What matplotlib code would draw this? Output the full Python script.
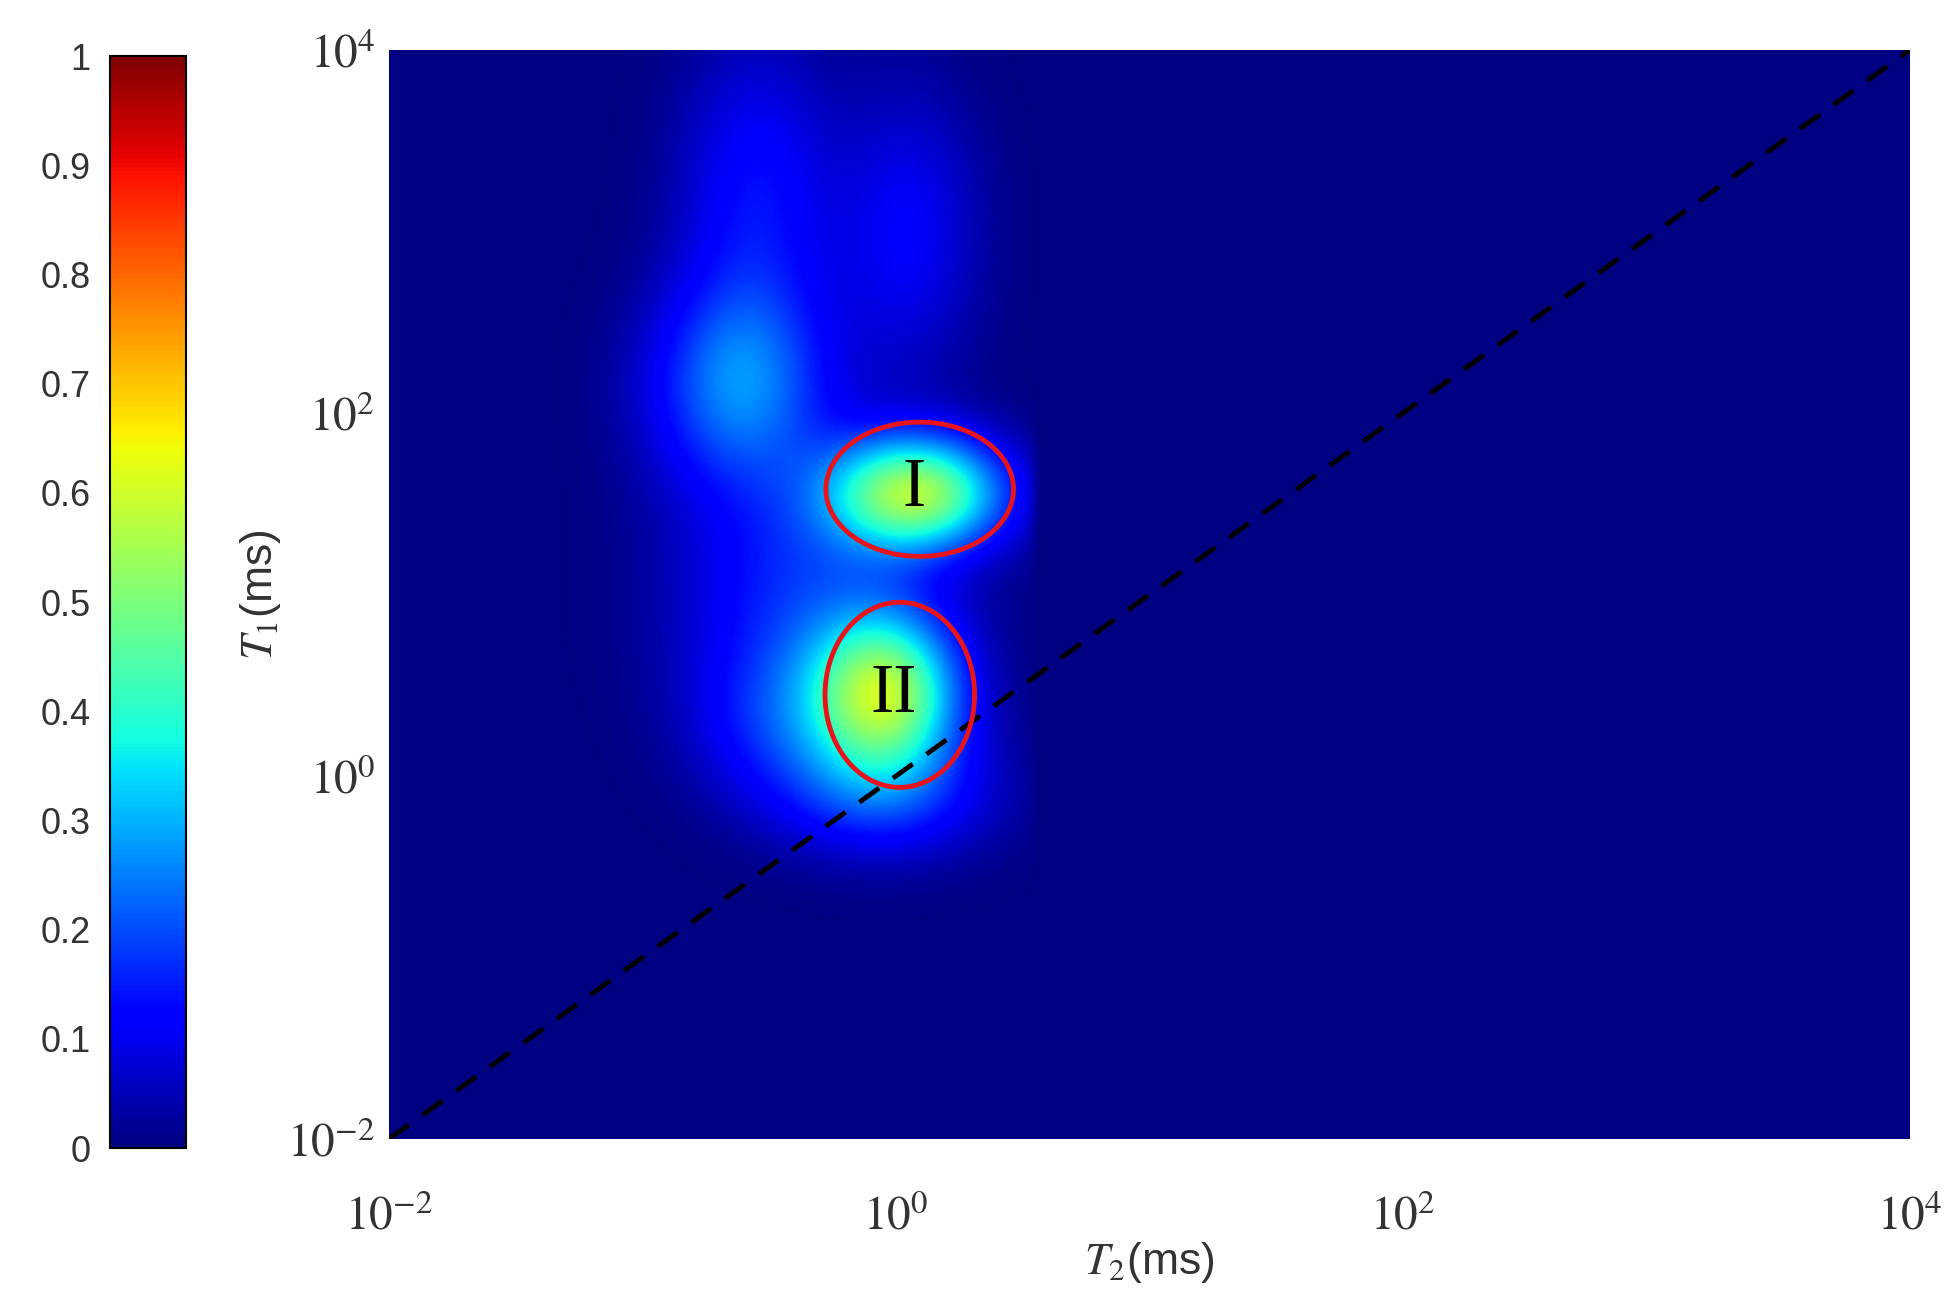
import numpy as np
import matplotlib.pyplot as plt

plt.rcParams["mathtext.fontset"] = "stix"

# peak parameters in log10 space: (log T2 centre, log T1 centre, amplitude, sigma T2, sigma T1)
peak_t2 = [0.08, -0.04, -0.62, -0.55, 0.05, -0.35, -0.05, -0.45]
peak_t1 = [1.56, 0.45, 2.15, 3.20, 3.00, 1.00, -0.10, 0.30]
peak_amp = [0.52, 0.50, 0.24, 0.13, 0.11, 0.16, 0.16, 0.12]
peak_s2 = [0.24, 0.20, 0.25, 0.22, 0.20, 0.35, 0.30, 0.25]
peak_s1 = [0.22, 0.30, 0.40, 0.60, 0.55, 0.50, 0.25, 0.30]
right_edge = 0.55   # log T2 where signal cuts off

ellipse_x = [1.24, 1.035]
ellipse_y = [38.0, 2.8]
ellipse_w = [0.74, 0.59]   # decades
ellipse_h = [0.74, 1.02]
ellipse_lbl = ["I", "II"]

lx = np.linspace(-2, 4, 600)
ly = np.linspace(-2, 4, 600)
X, Y = np.meshgrid(lx, ly)
Z = np.zeros_like(X)
for cx, cy, a, sx, sy in zip(peak_t2, peak_t1, peak_amp, peak_s2, peak_s1):
    Z += a * np.exp(-((X - cx) ** 2 / (2 * sx ** 2) + (Y - cy) ** 2 / (2 * sy ** 2)))
Z *= 1 / (1 + np.exp((X - right_edge) / 0.012))
Z = np.clip(Z, 0, 1)

fig = plt.figure(figsize=(19.57, 13.10), dpi=100)
ax = fig.add_axes([389 / 1957, 1 - 1139 / 1310, 1521 / 1957, 1089 / 1310])
cax = fig.add_axes([110 / 1957, 1 - 1148 / 1310, 76 / 1957, 1092 / 1310])

mesh = ax.pcolormesh(10 ** lx, 10 ** ly, Z, cmap="jet", vmin=0, vmax=1, shading="gouraud")
ax.set_xscale("log")
ax.set_yscale("log")
ax.set_xlim(1e-2, 1e4)
ax.set_ylim(1e-2, 1e4)
ax.plot([1e-2, 1e4], [1e-2, 1e4], color="k", lw=3.5, ls=(0, (5, 3.5)))

for x, y, w, h, t in zip(ellipse_x, ellipse_y, ellipse_w, ellipse_h, ellipse_lbl):
    th = np.linspace(0, 2 * np.pi, 200)
    ex = 10 ** (np.log10(x) + w / 2 * np.cos(th))
    ey = 10 ** (np.log10(y) + h / 2 * np.sin(th))
    ax.plot(ex, ey, color="#e8141c", lw=3.5)
    ax.text(x * 0.95, y, t, fontsize=50, family="Liberation Serif", ha="center", va="center")

for s in ax.spines.values():
    s.set_visible(False)
ax.tick_params(length=0, which="both", labelsize=34)
ax.minorticks_off()
ticks = [1e-2, 1e0, 1e2, 1e4]
labels = [r"$10^{-2}$", r"$10^{0}$", r"$10^{2}$", r"$10^{4}$"]
ax.set_xticks(ticks)
ax.set_yticks(ticks)
ax.set_xticklabels(labels)
ax.set_yticklabels(labels)
for lab in ax.get_xticklabels() + ax.get_yticklabels():
    lab.set_color("#333333")
ax.tick_params(axis="x", pad=40)
ax.tick_params(axis="y", pad=10)
ax.set_xlabel(r"$T_2$(ms)", fontsize=32, family="Liberation Sans", color="#333333", labelpad=0)
ax.set_ylabel(r"$T_1$(ms)", fontsize=32, family="Liberation Sans", color="#333333")
ax.yaxis.set_label_coords(-0.07, 0.5)

cb = fig.colorbar(mesh, cax=cax, ticks=np.linspace(0, 1, 11))
cb.ax.yaxis.set_ticks_position("left")
cb.ax.set_yticklabels(["0", "0.1", "0.2", "0.3", "0.4", "0.5", "0.6", "0.7", "0.8", "0.9", "1"])
cb.ax.tick_params(length=0, labelsize=26, pad=14, labelcolor="#333333")
for lab in cb.ax.get_yticklabels():
    lab.set_family("Liberation Sans")
cb.outline.set_linewidth(1.5)

fig.savefig("out.png", dpi=100)
